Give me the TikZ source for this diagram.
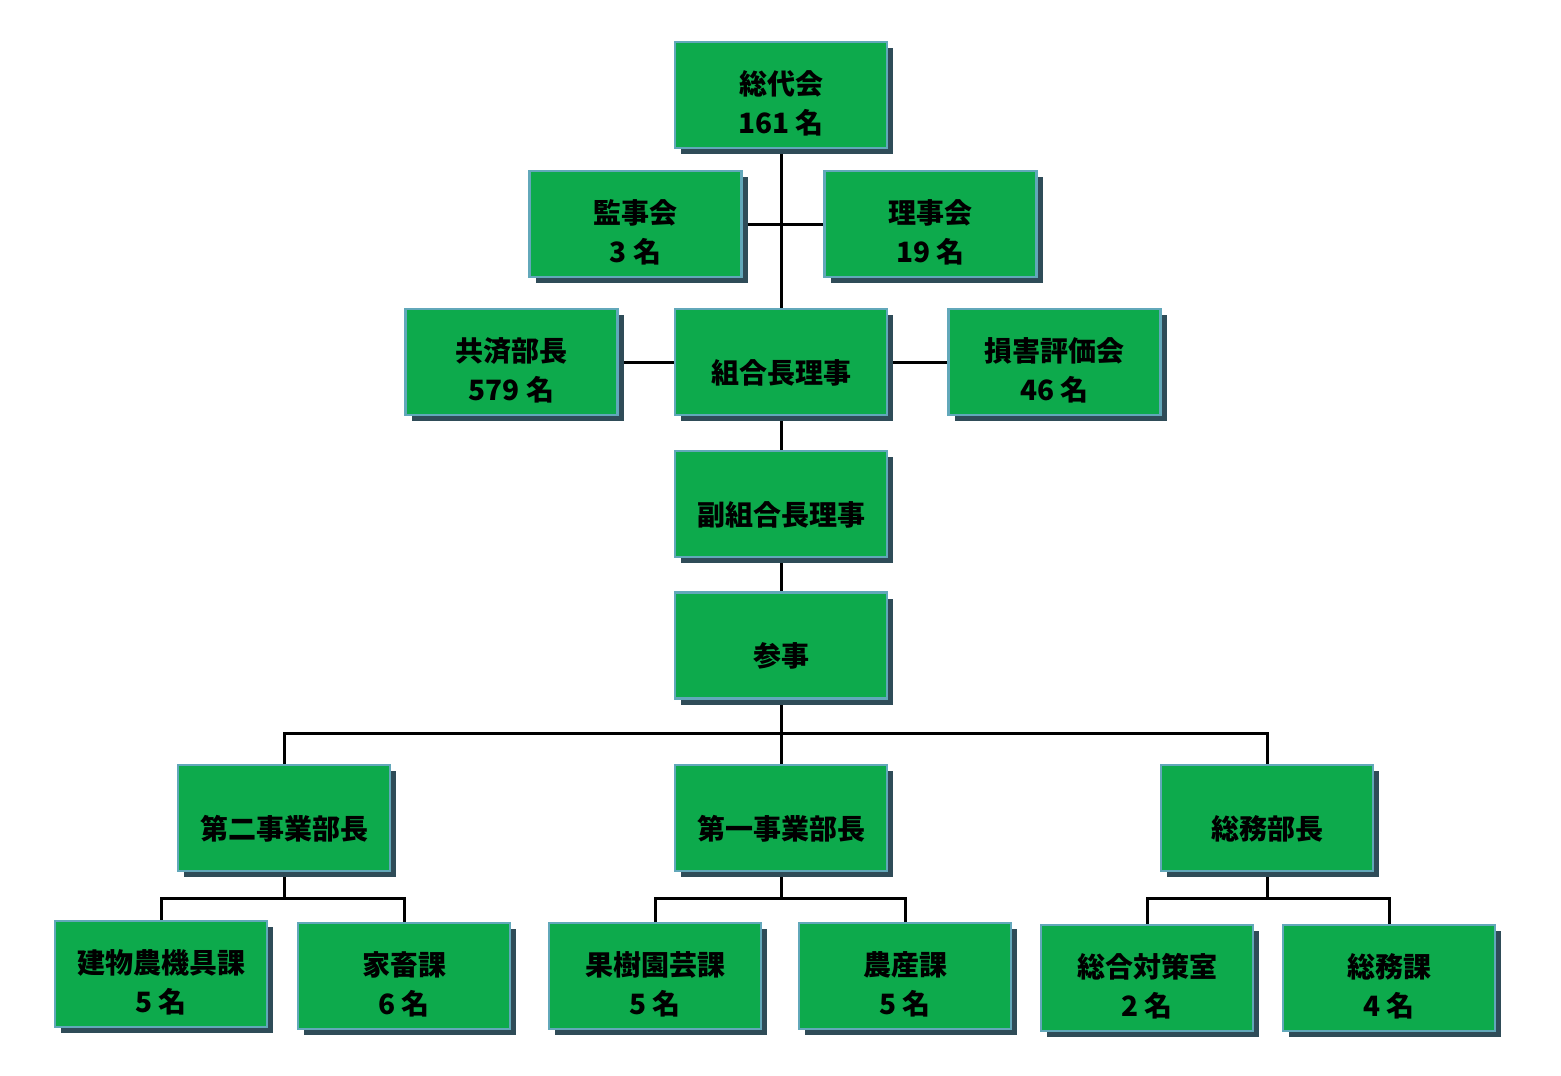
\documentclass[tikz,border=0pt]{standalone}
\usepackage{fontspec}
\newfontfamily\jp{Noto Sans CJK JP}
\usetikzlibrary{shadows,backgrounds}
\definecolor{boxgreen}{HTML}{0DAA4C}
\definecolor{boxedge}{HTML}{62A8BA}
\definecolor{boxshadow}{HTML}{2F4C58}
\newcommand\twol[2]{\raisebox{1pt}[0pt][0pt]{\makebox[0pt]{#1}}\raisebox{-38pt}[0pt][0pt]{\makebox[0pt]{#2}}}
\newcommand\onel[1]{\raisebox{-21pt}[0pt][0pt]{\makebox[0pt]{#1}}}
\tikzset{
  orgbox/.style={draw=boxedge, line width=2.5pt, fill=boxgreen, rectangle,
    minimum width=212pt, minimum height=106pt, inner sep=0pt,
    font=\jp\bfseries\fontsize{28}{39}\selectfont,
    drop shadow={shadow xshift=6pt, shadow yshift=-6pt, fill=boxshadow, opacity=1}},
  conn/.style={line width=3pt, black}
}
\begin{document}
\begin{tikzpicture}[x=1pt,y=-1pt]
\begin{scope}[on background layer]
\fill[white] (0,0) rectangle (1561,1076);
\end{scope}
\useasboundingbox (0,0) rectangle (1561,1076);
\node[orgbox] (top) at (781,95) {\twol{総代会}{161 名}};
\node[orgbox] (kanji) at (635.5,224) {\twol{監事会}{3 名}};
\node[orgbox] (riji) at (930.5,224) {\twol{理事会}{19 名}};
\node[orgbox] (kyosai) at (511.5,362) {\twol{共済部長}{579 名}};
\node[orgbox] (kumiai) at (781,362) {\onel{組合長理事}};
\node[orgbox] (songai) at (1054.5,362) {\twol{損害評価会}{46 名}};
\node[orgbox] (fuku) at (781,504) {\onel{副組合長理事}};
\node[orgbox] (sanji) at (781,645.5) {\onel{参事}};
\node[orgbox] (dai2) at (284,818) {\onel{第二事業部長}};
\node[orgbox] (dai1) at (781,818) {\onel{第一事業部長}};
\node[orgbox] (somu) at (1267,818) {\onel{総務部長}};
\node[orgbox] (tatemono) at (161,974) {\twol{建物農機具課}{5 名}};
\node[orgbox] (kachiku) at (404,976) {\twol{家畜課}{6 名}};
\node[orgbox] (kaju) at (655,976) {\twol{果樹園芸課}{5 名}};
\node[orgbox] (nosan) at (905,976) {\twol{農産課}{5 名}};
\node[orgbox] (sogo) at (1147,978) {\twol{総合対策室}{2 名}};
\node[orgbox] (somuka) at (1389,978) {\twol{総務課}{4 名}};
\coordinate (js) at ([yshift=-34pt]sanji.south);
\coordinate (j2) at ([yshift=-26pt]dai2.south);
\coordinate (j1) at ([yshift=-26pt]dai1.south);
\coordinate (j3) at ([yshift=-26pt]somu.south);
\begin{scope}[on background layer]
\draw[conn] (top.south) -- (kumiai.north);
\draw[conn] (kanji.east) -- (riji.west);
\draw[conn] (kyosai.east) -- (kumiai.west);
\draw[conn] (kumiai.east) -- (songai.west);
\draw[conn] (kumiai.south) -- (fuku.north);
\draw[conn] (fuku.south) -- (sanji.north);
\draw[conn] (sanji.south) -- (dai1.north);
\draw[conn] (dai2.north) |- (js) -| (somu.north);
\draw[conn] (dai2.south) -- (j2);
\draw[conn] (tatemono.north) |- (j2) -| (kachiku.north);
\draw[conn] (dai1.south) -- (j1);
\draw[conn] (kaju.north) |- (j1) -| (nosan.north);
\draw[conn] (somu.south) -- (j3);
\draw[conn] (sogo.north) |- (j3) -| (somuka.north);
\end{scope}
\end{tikzpicture}
\end{document}
